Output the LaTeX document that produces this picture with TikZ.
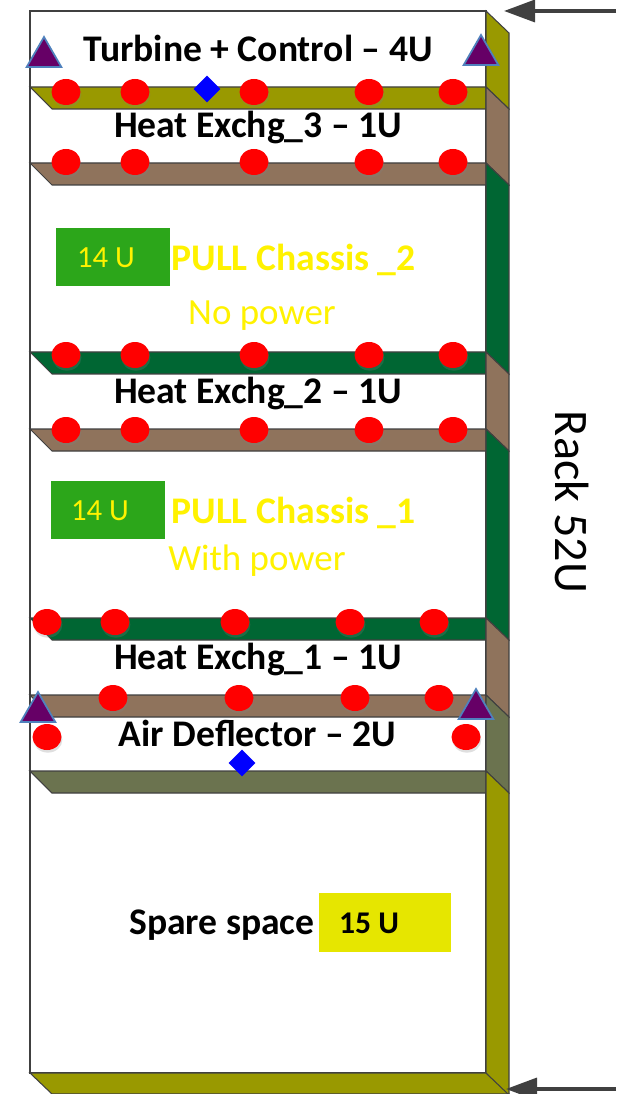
\documentclass[tikz,border=0pt]{standalone}
\usepackage{fontspec}
\setmainfont{Carlito}
\usetikzlibrary{shapes.geometric,shadows,arrows.meta}
\definecolor{shelfolive}{HTML}{999900}
\definecolor{shelfbrown}{HTML}{8F735C}
\definecolor{shelfgreen}{HTML}{006633}
\definecolor{shelfgray}{HTML}{6B734F}
\definecolor{boxgreen}{HTML}{2CA61A}
\definecolor{boxyellow}{HTML}{E6E600}
\definecolor{linegray}{HTML}{404040}
\definecolor{sensorfill}{HTML}{660066}
\definecolor{sensorline}{HTML}{4F81BD}
\tikzset{
	shelf/.style={draw=linegray, line width=0.6pt},
	dot/.style={ellipse, fill=red, minimum width=0.58cm, minimum height=0.52cm, inner sep=0pt,
		drop shadow={shadow xshift=0.5pt, shadow yshift=-1.5pt, opacity=0.25}},
	valve/.style={diamond, fill=blue, minimum width=0.54cm, minimum height=0.54cm, inner sep=0pt},
	sensor/.style={regular polygon, regular polygon sides=3, fill=sensorfill, draw=sensorline, line width=1pt,
		minimum size=0.8cm, inner sep=0pt},
	title/.style={font=\fontsize{21.4}{24}\selectfont\bfseries, inner sep=0pt},
	yellowtitle/.style={title, text=yellow},
	note/.style={font=\fontsize{21}{24}\selectfont, text=yellow, inner sep=0pt},
	sizebox/.style={minimum width=2.28cm, minimum height=1.16cm, inner sep=0pt},
	heightarrow/.style={->, linegray, line width=2pt, >={Stealth[length=0.62cm, width=0.44cm, inset=0pt]}}
}
\begin{document}
\begin{tikzpicture}[x=0.02cm, y=-0.02cm, >=Stealth]
	\useasboundingbox (0,0) rectangle (616,1094);
	% rack front
	\draw[shelf, fill=white] (30,11) rectangle (486,1073);
	% shelves
	\foreach \ya/\col in {87/shelfolive, 163/shelfbrown, 352/shelfgreen, 429/shelfbrown, 618/shelfgreen, 695/shelfbrown, 771/shelfgray}
		\draw[shelf, fill=\col] (30,\ya) -- (486,\ya) -- (486,\ya+22) -- (52,\ya+22) -- cycle;
	\draw[shelf, fill=shelfolive] (30,1073) -- (486,1073) -- (509,1094) -- (52,1094) -- cycle;
	% right side panels, top to bottom
	\foreach \ya/\yb/\col in {11/87/shelfolive, 87/163/shelfbrown, 163/352/shelfgreen, 352/429/shelfbrown, 429/618/shelfgreen, 618/695/shelfbrown, 695/771/shelfgray, 771/1073/shelfolive}
		\draw[shelf, fill=\col] (486,\ya) -- (509,\ya+22) -- (509,\yb+22) -- (486,\yb) -- cycle;
	% red dots
	\foreach \yy/\nm in {92/a, 162/b, 355/c, 430/d}
		\foreach \xx [count=\i] in {66,135,254,369,453}
			\node[dot] (dot\nm\i) at (\xx,\yy) {};
	\foreach \xx [count=\i] in {47,115,235,350,434}
		\node[dot] (dote\i) at (\xx,622) {};
	\foreach \xx [count=\i] in {113,239,355,439}
		\node[dot] (dotf\i) at (\xx,698) {};
	\node[dot] (dotg1) at (47,737) {};
	\node[dot] (dotg2) at (466,737) {};
	% valves
	\node[valve] (valvetop) at (207,89) {};
	\node[valve] (valvebot) at (242,763) {};
	% sensors
	\node[sensor] (sensora) at (44,57) {};
	\node[sensor] (sensorb) at (481,55) {};
	\node[sensor] (sensorc) at (38,712) {};
	\node[sensor] (sensord) at (476,709) {};
	% labels
	\node[title] (turbine) at (258,48) {Turbine + Control – 4U};
	\node[title] (hexthree) at (258,127) {Heat Exchg\_3 – 1U};
	\node[title] (hextwo) at (258,393) {Heat Exchg\_2 – 1U};
	\node[title] (hexone) at (258,659) {Heat Exchg\_1 – 1U};
	\node[title] (deflector) at (257.5,733) {Air Deflector – 2U};
	\node[title] (spare) at (222,925) {Spare space};
	\node[yellowtitle] (pulltwo) at (293.5,260) {PULL Chassis \_2};
	\node[yellowtitle] (pullone) at (293.5,513) {PULL Chassis \_1};
	\node[note] (nopower) at (262,316) {No power};
	\node[note] (withpower) at (257,561) {With power};
	\node[sizebox, fill=boxgreen] (boxtwo) at (113,257) {};
	\node[sizebox, fill=boxgreen] (boxone) at (108,510) {};
	\node[text=yellow, font=\fontsize{17.5}{20}\selectfont, inner sep=0pt] (sizetwo) at (106,258) {14 U};
	\node[text=yellow, font=\fontsize{17.5}{20}\selectfont, inner sep=0pt] (sizeone) at (100,511) {14 U};
	\node[sizebox, fill=boxyellow, minimum width=2.64cm, minimum height=1.18cm] (boxspare) at (385,922.5) {};
	\node[font=\fontsize{18}{20}\selectfont\bfseries, inner sep=0pt] (sizespare) at (369,923) {15 U};
	\node[font=\fontsize{27.4}{30}\selectfont, rotate=-90, inner sep=0pt] (rack) at (572,502) {Rack 52U};
	% height arrows
	\coordinate (toptip) at (504,11);
	\coordinate (topend) at (616,11);
	\coordinate (bottip) at (506,1089);
	\coordinate (botend) at (616,1089);
	\draw[heightarrow] (topend) -- (toptip);
	\draw[heightarrow] (botend) -- (bottip);
\end{tikzpicture}
\end{document}
